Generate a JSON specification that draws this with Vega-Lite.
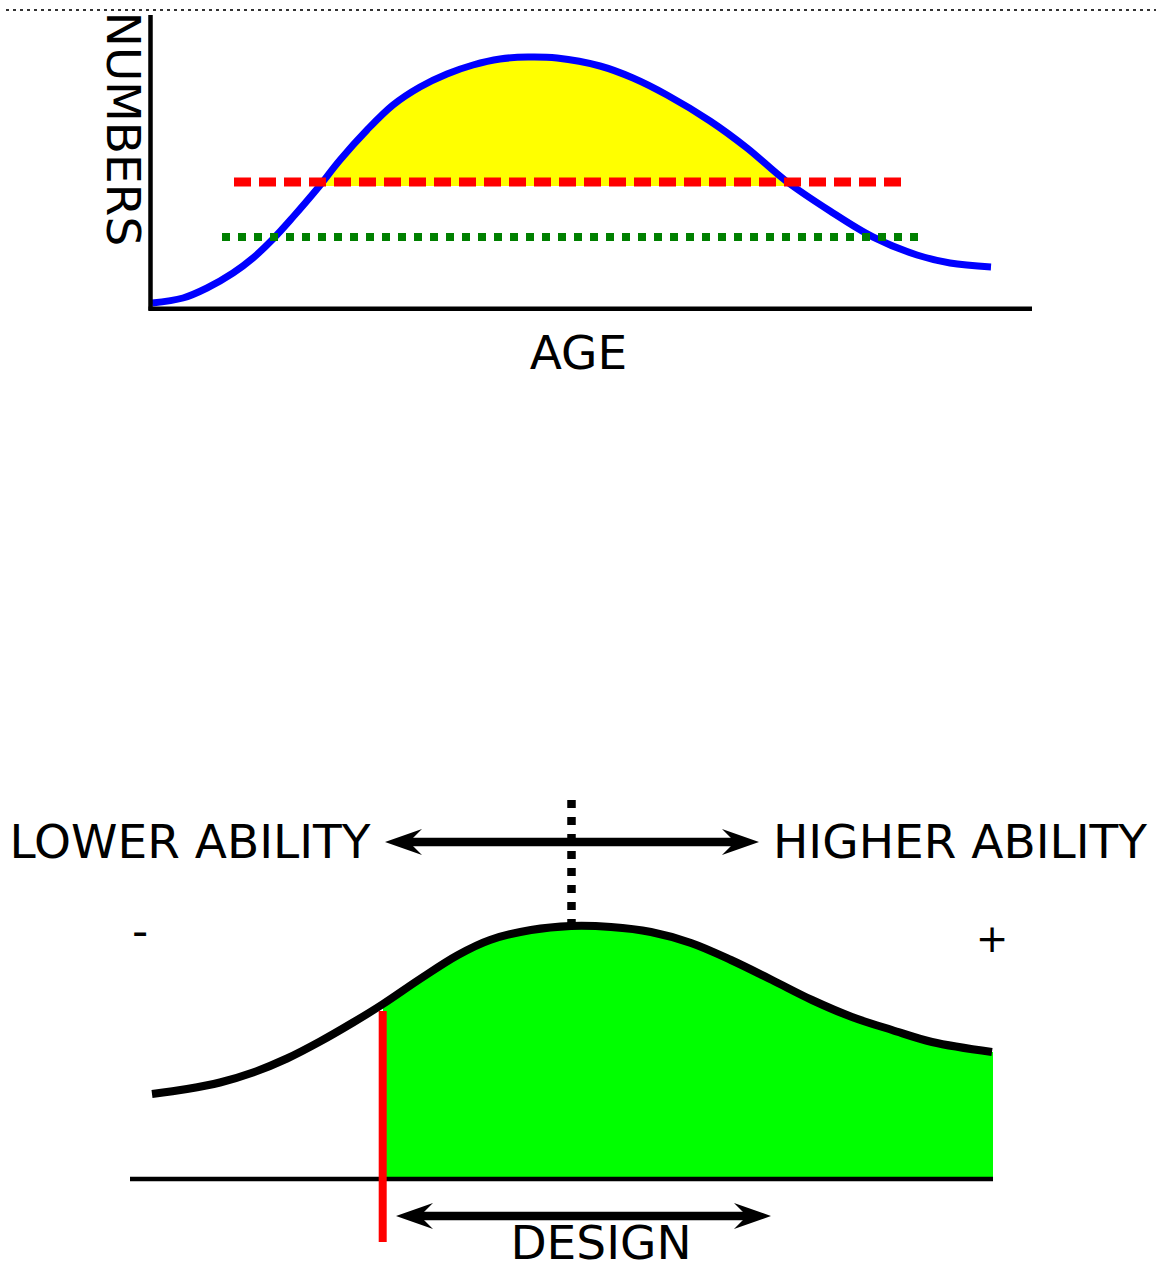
{
  "$schema": "https://vega.github.io/schema/vega-lite/v6.json",
  "width": 1156,
  "height": 1264,
  "autosize": {"type": "none"},
  "padding": 0,
  "background": "white",
  "config": {"view": {"stroke": null}, "text": {"font": "DejaVu Sans"}},
  "datasets": {
    "topDotted": [{"x": 6, "y": 10, "x2": 1156, "y2": 10}],
    "axesTop": [
      {"x": 150.5, "y": 15, "x2": 150.5, "y2": 310.5},
      {"x": 148.5, "y": 308.7, "x2": 1032, "y2": 308.7}
    ],
    "redDash": [{"x": 234, "y": 182, "x2": 908, "y2": 182}],
    "greenDot": [{"x": 222, "y": 237, "x2": 918, "y2": 237}],
    "blue": [
      {"x": 152, "y": 303}, {"x": 183, "y": 298}, {"x": 207, "y": 288}, {"x": 233, "y": 273},
      {"x": 253, "y": 258}, {"x": 273, "y": 239}, {"x": 293, "y": 217}, {"x": 317, "y": 189},
      {"x": 340, "y": 160}, {"x": 367, "y": 130}, {"x": 393, "y": 105}, {"x": 420, "y": 87},
      {"x": 447, "y": 74}, {"x": 473, "y": 65}, {"x": 500, "y": 59}, {"x": 528, "y": 57},
      {"x": 557, "y": 58}, {"x": 600, "y": 66}, {"x": 633, "y": 78}, {"x": 667, "y": 95},
      {"x": 710, "y": 121}, {"x": 747, "y": 148}, {"x": 786, "y": 181}, {"x": 830, "y": 211},
      {"x": 873, "y": 237}, {"x": 917, "y": 255}, {"x": 950, "y": 263}, {"x": 991, "y": 267}
    ],
    "yellow": [
      {"x": 320, "y": 186, "y2": 186}, {"x": 340, "y": 160, "y2": 186}, {"x": 367, "y": 130, "y2": 186},
      {"x": 393, "y": 105, "y2": 186}, {"x": 420, "y": 87, "y2": 186}, {"x": 447, "y": 74, "y2": 186},
      {"x": 473, "y": 65, "y2": 186}, {"x": 500, "y": 59, "y2": 186}, {"x": 528, "y": 57, "y2": 186},
      {"x": 557, "y": 58, "y2": 186}, {"x": 600, "y": 66, "y2": 186}, {"x": 633, "y": 78, "y2": 186},
      {"x": 667, "y": 95, "y2": 186}, {"x": 710, "y": 121, "y2": 186}, {"x": 747, "y": 148, "y2": 186},
      {"x": 791, "y": 186, "y2": 186}
    ],
    "greenFill": [
      {"x": 383, "y": 1004, "y2": 1179}, {"x": 420, "y": 979, "y2": 1179}, {"x": 458, "y": 955, "y2": 1179},
      {"x": 490, "y": 940, "y2": 1179}, {"x": 531, "y": 930, "y2": 1179}, {"x": 571, "y": 926, "y2": 1179},
      {"x": 611, "y": 927, "y2": 1179}, {"x": 651, "y": 932, "y2": 1179}, {"x": 691, "y": 943, "y2": 1179},
      {"x": 731, "y": 960, "y2": 1179}, {"x": 772, "y": 980, "y2": 1179}, {"x": 812, "y": 1000, "y2": 1179},
      {"x": 852, "y": 1017, "y2": 1179}, {"x": 892, "y": 1030, "y2": 1179}, {"x": 932, "y": 1042, "y2": 1179},
      {"x": 993, "y": 1052, "y2": 1179}
    ],
    "black": [
      {"x": 152, "y": 1094}, {"x": 187, "y": 1089}, {"x": 220, "y": 1082.5}, {"x": 253, "y": 1072.5},
      {"x": 287, "y": 1058.5}, {"x": 320, "y": 1041.5}, {"x": 353, "y": 1022.5}, {"x": 383, "y": 1004},
      {"x": 420, "y": 979}, {"x": 458, "y": 955}, {"x": 490, "y": 940}, {"x": 531, "y": 930},
      {"x": 571, "y": 926}, {"x": 611, "y": 927}, {"x": 651, "y": 932}, {"x": 691, "y": 943},
      {"x": 731, "y": 960}, {"x": 772, "y": 980}, {"x": 812, "y": 1000}, {"x": 852, "y": 1017},
      {"x": 892, "y": 1030}, {"x": 932, "y": 1042}, {"x": 992, "y": 1052}
    ],
    "baseline": [{"x": 130, "y": 1179, "x2": 993, "y2": 1179}],
    "redV": [{"x": 382.7, "y": 1011, "x2": 382.7, "y2": 1242}],
    "blackDot": [{"x": 571.5, "y": 800, "x2": 571.5, "y2": 924}],
    "shafts": [
      {"x": 405, "y": 842, "x2": 740, "y2": 842},
      {"x": 416, "y": 1216, "x2": 751, "y2": 1216}
    ],
    "heads": [
      {"x": 403.5, "y": 842, "dir": "L"}, {"x": 740.5, "y": 842, "dir": "R"},
      {"x": 414.5, "y": 1216, "dir": "L"}, {"x": 752.5, "y": 1216, "dir": "R"}
    ],
    "labels": [
      {"x": 578.5, "y": 369, "label": "AGE"},
      {"x": 190, "y": 858, "label": "LOWER ABILITY"},
      {"x": 960, "y": 858, "label": "HIGHER ABILITY"},
      {"x": 601, "y": 1259, "label": "DESIGN"}
    ],
    "minus": [{"x": 140, "y": 945.5, "label": "-"}],
    "vlabel": [{"x": 107, "y": 129, "label": "NUMBERS"}],
    "plus": [{"x": 992, "y": 952, "label": "+"}]
  },
  "encoding": {
    "x": {"field": "x", "type": "quantitative", "scale": {"domain": [0, 1156], "nice": false, "zero": false}, "axis": null},
    "y": {"field": "y", "type": "quantitative", "scale": {"domain": [0, 1264], "nice": false, "zero": false, "reverse": true}, "axis": null}
  },
  "layer": [
    {
      "data": {"name": "topDotted"},
      "mark": {"type": "rule", "color": "#333333", "strokeWidth": 2, "strokeDash": [3, 4]},
      "encoding": {"x2": {"field": "x2"}, "y2": {"field": "y2"}}
    },
    {
      "data": {"name": "yellow"},
      "mark": {"type": "area", "color": "#ffff00", "opacity": 1, "interpolate": "catmull-rom"},
      "encoding": {"y2": {"field": "y2"}}
    },
    {
      "data": {"name": "blue"},
      "mark": {"type": "line", "color": "#0000ff", "strokeWidth": 7, "interpolate": "catmull-rom"},
      "encoding": {}
    },
    {
      "data": {"name": "redDash"},
      "mark": {"type": "rule", "color": "#ff0000", "strokeWidth": 9, "strokeDash": [17, 8]},
      "encoding": {"x2": {"field": "x2"}, "y2": {"field": "y2"}}
    },
    {
      "data": {"name": "greenDot"},
      "mark": {"type": "rule", "color": "#008000", "strokeWidth": 8, "strokeDash": [8, 8]},
      "encoding": {"x2": {"field": "x2"}, "y2": {"field": "y2"}}
    },
    {
      "data": {"name": "axesTop"},
      "mark": {"type": "rule", "color": "#000000", "strokeWidth": 4.5},
      "encoding": {"x2": {"field": "x2"}, "y2": {"field": "y2"}}
    },
    {
      "data": {"name": "greenFill"},
      "mark": {"type": "area", "color": "#00ff00", "opacity": 1, "interpolate": "catmull-rom"},
      "encoding": {"y2": {"field": "y2"}}
    },
    {
      "data": {"name": "black"},
      "mark": {"type": "line", "color": "#000000", "strokeWidth": 8, "interpolate": "catmull-rom"},
      "encoding": {}
    },
    {
      "data": {"name": "baseline"},
      "mark": {"type": "rule", "color": "#000000", "strokeWidth": 4.5},
      "encoding": {"x2": {"field": "x2"}, "y2": {"field": "y2"}}
    },
    {
      "data": {"name": "redV"},
      "mark": {"type": "rule", "color": "#ff0000", "strokeWidth": 8},
      "encoding": {"x2": {"field": "x2"}, "y2": {"field": "y2"}}
    },
    {
      "data": {"name": "blackDot"},
      "mark": {"type": "rule", "color": "#000000", "strokeWidth": 8.5, "strokeDash": [8, 9]},
      "encoding": {"x2": {"field": "x2"}, "y2": {"field": "y2"}}
    },
    {
      "data": {"name": "shafts"},
      "mark": {"type": "rule", "color": "#000000", "strokeWidth": 8.5},
      "encoding": {"x2": {"field": "x2"}, "y2": {"field": "y2"}}
    },
    {
      "data": {"name": "heads"},
      "mark": {"type": "point", "filled": true, "color": "#000000", "opacity": 1, "strokeWidth": 0, "size": 1369},
      "encoding": {
        "shape": {
          "field": "dir", "type": "nominal", "legend": null,
          "scale": {"domain": ["L", "R"], "range": ["M-1,0L1,-0.703L0.297,0L1,0.703Z", "M1,0L-1,-0.703L-0.297,0L-1,0.703Z"]}
        }
      }
    },
    {
      "data": {"name": "labels"},
      "mark": {"type": "text", "fontSize": 47, "align": "center", "baseline": "alphabetic", "color": "#000000"},
      "encoding": {"text": {"field": "label"}}
    },
    {
      "data": {"name": "minus"},
      "mark": {"type": "text", "fontSize": 45, "align": "center", "baseline": "alphabetic", "color": "#000000"},
      "encoding": {"text": {"field": "label"}}
    },
    {
      "data": {"name": "vlabel"},
      "mark": {"type": "text", "fontSize": 47, "align": "center", "baseline": "alphabetic", "angle": 90, "color": "#000000"},
      "encoding": {"text": {"field": "label"}}
    },
    {
      "data": {"name": "plus"},
      "mark": {"type": "text", "fontSize": 39, "align": "center", "baseline": "alphabetic", "color": "#000000"},
      "encoding": {"text": {"field": "label"}}
    }
  ]
}
